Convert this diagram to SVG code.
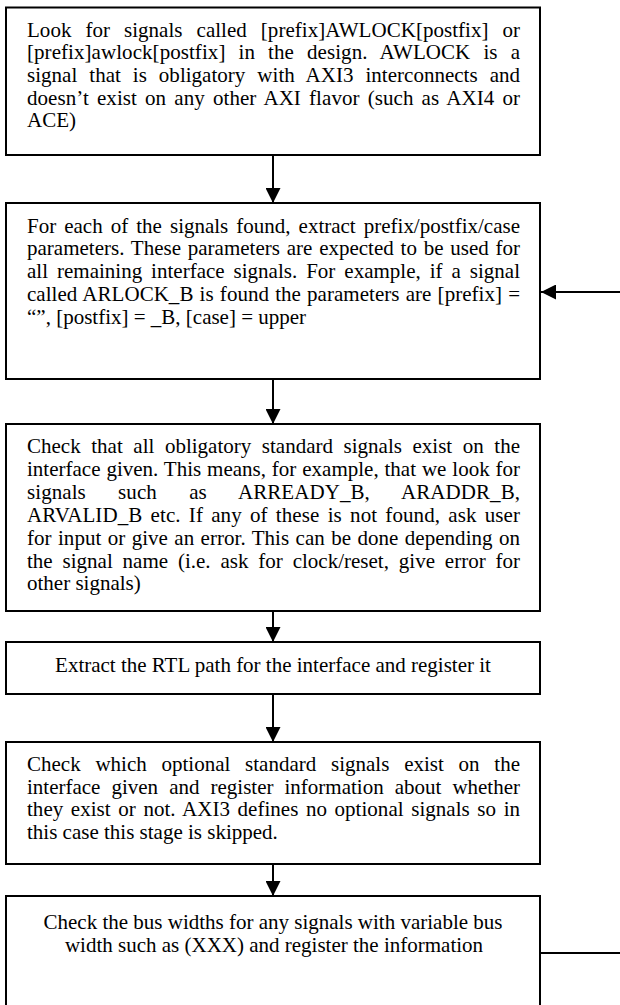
<svg xmlns="http://www.w3.org/2000/svg" width="620" height="1005" viewBox="0 0 620 1005">
  <style>
    .box { fill: #ffffff; stroke: #000000; stroke-width: 2; }
    .t { font-family: "Liberation Serif", "Times New Roman", serif; font-size: 21px; fill: #000000; }
    .c { text-anchor: middle; }
    .link { fill: none; stroke: #000000; stroke-width: 2; }
  </style>
  <defs>
    <marker id="head" markerUnits="userSpaceOnUse" markerWidth="15" markerHeight="15" refX="15" refY="7.5" orient="auto">
      <path d="M0,0 L15,7.5 L0,15 Z" fill="#000000"/>
    </marker>
  </defs>

  <rect width="620" height="1005" fill="#ffffff"/>

  <!-- step 1: find AWLOCK signals -->
  <g id="find-awlock">
    <rect class="box" x="6" y="7.5" width="534" height="147.5"/>
    <text class="t" x="27" y="36.5" textLength="493" lengthAdjust="spacing" style="word-spacing:8.7px">Look for signals called [prefix]AWLOCK[postfix] or</text>
    <text class="t" x="27" y="59.2" textLength="493" lengthAdjust="spacing" style="word-spacing:7.8px">[prefix]awlock[postfix] in the design. AWLOCK is a</text>
    <text class="t" x="27" y="81.9" textLength="493" lengthAdjust="spacing" style="word-spacing:6.7px">signal that is obligatory with AXI3 interconnects and</text>
    <text class="t" x="27" y="104.6" textLength="493" lengthAdjust="spacing" style="word-spacing:2.9px">doesn’t exist on any other AXI flavor (such as AXI4 or</text>
    <text class="t" x="27" y="127.3">ACE)</text>
  </g>

  <!-- step 2: extract naming parameters -->
  <g id="extract-params">
    <rect class="box" x="6" y="203" width="534" height="176"/>
    <text class="t" x="27" y="232.7" textLength="493" lengthAdjust="spacing" style="word-spacing:2.8px">For each of the signals found, extract prefix/postfix/case</text>
    <text class="t" x="27" y="255.4" textLength="493" lengthAdjust="spacing" style="word-spacing:1.5px">parameters. These parameters are expected to be used for</text>
    <text class="t" x="27" y="278.1" textLength="493" lengthAdjust="spacing" style="word-spacing:3.7px">all remaining interface signals. For example, if a signal</text>
    <text class="t" x="27" y="300.8" textLength="493" lengthAdjust="spacing" style="word-spacing:0.9px">called ARLOCK_B is found the parameters are [prefix] =</text>
    <text class="t" x="27" y="323.5">“”, [postfix] = _B, [case] = upper</text>
  </g>

  <!-- step 3: check obligatory signals -->
  <g id="check-obligatory">
    <rect class="box" x="6" y="424" width="534" height="187"/>
    <text class="t" x="27" y="453" textLength="493" lengthAdjust="spacing" style="word-spacing:5.3px">Check that all obligatory standard signals exist on the</text>
    <text class="t" x="27" y="475.9" textLength="493" lengthAdjust="spacing" style="word-spacing:0.6px">interface given. This means, for example, that we look for</text>
    <text class="t" x="27" y="498.8" textLength="493" lengthAdjust="spacing" style="word-spacing:27px">signals such as ARREADY_B, ARADDR_B,</text>
    <text class="t" x="27" y="521.7" textLength="493" lengthAdjust="spacing" style="word-spacing:2.9px">ARVALID_B etc. If any of these is not found, ask user</text>
    <text class="t" x="27" y="544.6" textLength="493" lengthAdjust="spacing" style="word-spacing:1.1px">for input or give an error. This can be done depending on</text>
    <text class="t" x="27" y="567.5" textLength="493" lengthAdjust="spacing" style="word-spacing:4.6px">the signal name (i.e. ask for clock/reset, give error for</text>
    <text class="t" x="27" y="590.4">other signals)</text>
  </g>

  <!-- step 4: RTL path -->
  <g id="rtl-path">
    <rect class="box" x="6" y="642" width="534" height="52"/>
    <text class="t c" x="273" y="672">Extract the RTL path for the interface and register it</text>
  </g>

  <!-- step 5: optional signals -->
  <g id="check-optional">
    <rect class="box" x="6" y="742" width="534" height="122"/>
    <text class="t" x="27" y="770.7" textLength="493" lengthAdjust="spacing" style="word-spacing:9.5px">Check which optional standard signals exist on the</text>
    <text class="t" x="27" y="793.5" textLength="493" lengthAdjust="spacing" style="word-spacing:5.8px">interface given and register information about whether</text>
    <text class="t" x="27" y="816.3" textLength="493" lengthAdjust="spacing" style="word-spacing:2.3px">they exist or not. AXI3 defines no optional signals so in</text>
    <text class="t" x="27" y="839.1">this case this stage is skipped.</text>
  </g>

  <!-- step 6: bus widths -->
  <g id="bus-widths">
    <rect class="box" x="6" y="896" width="534" height="120"/>
    <text class="t c" x="273" y="928.5">Check the bus widths for any signals with variable bus</text>
    <text class="t c" x="274" y="951.5">width such as (XXX) and register the information</text>
  </g>

  <!-- connectors -->
  <g id="connectors">
    <line class="link" x1="273" y1="155" x2="273" y2="203" marker-end="url(#head)"/>
    <line class="link" x1="273" y1="379" x2="273" y2="424" marker-end="url(#head)"/>
    <line class="link" x1="273" y1="611" x2="273" y2="642" marker-end="url(#head)"/>
    <line class="link" x1="273" y1="694" x2="273" y2="742" marker-end="url(#head)"/>
    <line class="link" x1="273" y1="864" x2="273" y2="896" marker-end="url(#head)"/>
    <line class="link" x1="620" y1="292" x2="541" y2="292" marker-end="url(#head)"/>
    <line class="link" x1="540" y1="953" x2="620" y2="953"/>
  </g>
</svg>
